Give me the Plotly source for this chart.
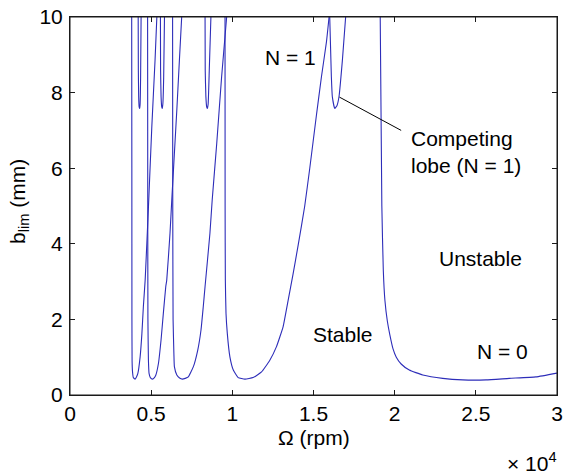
import plotly.graph_objects as go

# ---- data (spindle speed in rpm, limiting depth of cut in mm) ----
lobe4_rpm = [3800, 3810, 3815, 3825, 3850, 3900, 4010, 4100, 4180, 4320, 4430, 4520, 4630, 4830, 5040, 5240, 5350]
lobe4_blim = [10.0, 6.0, 2.0, 0.90, 0.62, 0.46, 0.42, 0.48, 0.57, 1.01, 1.63, 2.34, 3.04, 4.95, 7.10, 8.86, 10.0]

lobe3_rpm = [4780, 4790, 4800, 4830, 4870, 4950, 5080, 5200, 5290, 5450, 5610, 5750, 5900, 5960, 6160, 6270, 6430, 6580, 6740, 6880]
lobe3_blim = [10.0, 5.0, 2.0, 0.93, 0.57, 0.46, 0.42, 0.46, 0.53, 0.84, 1.46, 2.16, 2.87, 3.04, 4.28, 5.16, 6.39, 7.54, 8.86, 10.0]

lobe2_rpm = [6320, 6330, 6350, 6400, 6430, 6580, 6750, 6920, 7100, 7290, 7600, 7870, 8070, 8210, 8320, 8620, 8760, 9040, 9340, 9650]
lobe2_blim = [10.0, 5.0, 2.0, 1.10, 0.75, 0.53, 0.45, 0.42, 0.44, 0.48, 0.75, 1.19, 1.72, 2.34, 2.87, 4.28, 5.16, 6.66, 8.42, 10.0]

lobe1_rpm = [9550, 9555, 9570, 9610, 9690, 9850, 10060, 10360, 10780, 11280, 11800, 12310, 12720, 12930, 13130, 13440, 13740, 14050, 14460, 14770, 15180, 15490, 15800, 15960]
lobe1_blim = [10.0, 5.0, 3.04, 2.16, 1.63, 1.01, 0.66, 0.46, 0.42, 0.46, 0.61, 0.92, 1.28, 1.54, 1.81, 2.51, 3.20, 3.95, 5.00, 6.00, 7.40, 8.42, 9.35, 10.0]

lobe0_rpm = [19110, 19210, 19300, 19400, 19550, 19700, 19900, 20100, 20400, 20900, 21730, 22960, 24190, 25630, 27060, 28700, 30000]
lobe0_blim = [10.0, 5.0, 3.3, 2.5, 1.95, 1.60, 1.22, 1.00, 0.82, 0.66, 0.53, 0.44, 0.40, 0.40, 0.44, 0.48, 0.58]

# competing lobes (second mode)
comp_a_rpm = [4200, 4210, 4230, 4260, 4290, 4320, 4350, 4380]
comp_a_blim = [10.0, 8.6, 7.9, 7.62, 7.58, 7.7, 8.4, 10.0]
comp_b_rpm = [5570, 5580, 5610, 5650, 5680, 5720, 5770, 5820]
comp_b_blim = [10.0, 8.6, 7.9, 7.62, 7.58, 7.7, 8.4, 10.0]
comp_c_rpm = [8320, 8330, 8370, 8420, 8460, 8510, 8580, 8680]
comp_c_blim = [10.0, 8.6, 7.9, 7.62, 7.58, 7.7, 8.6, 10.0]
comp_d_rpm = [16000, 16100, 16160, 16310, 16450, 16570, 16780, 16980]
comp_d_blim = [10.0, 8.42, 7.89, 7.58, 7.66, 7.89, 8.86, 10.0]

x_tickvals = [0, 5000, 10000, 15000, 20000, 25000, 30000]
x_ticktext = ["0", "0.5", "1", "1.5", "2", "2.5", "3"]
y_tickvals = [0, 2, 4, 6, 8, 10]

LINE = "rgb(45,45,185)"
AXC = "#1a1a1a"
FONT = "Liberation Sans, Arial, Helvetica, sans-serif"
FS = 21

fig = go.Figure()
for xs, ys in [(lobe4_rpm, lobe4_blim), (lobe3_rpm, lobe3_blim), (lobe2_rpm, lobe2_blim),
               (lobe1_rpm, lobe1_blim), (lobe0_rpm, lobe0_blim),
               (comp_a_rpm, comp_a_blim), (comp_b_rpm, comp_b_blim),
               (comp_c_rpm, comp_c_blim), (comp_d_rpm, comp_d_blim)]:
    fig.add_trace(go.Scatter(x=xs, y=ys, mode="lines",
                             line=dict(color=LINE, width=1.1, shape="spline", smoothing=0.4),
                             showlegend=False, hoverinfo="skip", cliponaxis=True))

# leader line for competing lobe
fig.add_shape(type="line", x0=16600, y0=7.88, x1=20400, y1=7.0,
              line=dict(color="black", width=1))
# axes box
fig.add_shape(type="rect", xref="paper", yref="paper", x0=0, y0=0, x1=1, y1=1,
              line=dict(color=AXC, width=1), fillcolor="rgba(0,0,0,0)", layer="above")

ann = dict(showarrow=False, font=dict(family=FONT, size=FS, color="black"))
fig.add_annotation(x=13600, y=8.94, text="N = 1", **ann)
fig.add_annotation(x=20900, y=6.42, text="Competing<br>lobe (N = 1)", xanchor="left", align="left", **ann)
fig.add_annotation(x=16810, y=1.59, text="Stable", **ann)
fig.add_annotation(x=25280, y=3.60, text="Unstable", **ann)
fig.add_annotation(x=26630, y=1.14, text="N = 0", **ann)
fig.add_annotation(x=1.004, y=-0.177, xref="paper", yref="paper", xanchor="right", yanchor="middle",
                   text="× 10<sup>4</sup>", **ann)
# axis titles
fig.add_annotation(x=0.5, y=-0.113, xref="paper", yref="paper", xanchor="center", yanchor="middle",
                   text="Ω (rpm)", **ann)
fig.add_annotation(x=-0.105, y=0.513, xref="paper", yref="paper", xanchor="center", yanchor="middle",
                   text="b<sub>lim</sub> (mm)", textangle=-90, **ann)

fig.update_layout(
    width=564, height=474,
    margin=dict(l=70, r=7, t=17, b=79, autoexpand=False),
    paper_bgcolor="white", plot_bgcolor="white",
    font=dict(family=FONT, size=FS, color="black"),
)
fig.update_xaxes(range=[0, 30000], tickvals=x_tickvals, ticktext=x_ticktext,
                 showline=True, mirror="ticks", linecolor=AXC, linewidth=1,
                 ticks="inside", ticklen=5, tickcolor=AXC, tickwidth=1, showgrid=False, zeroline=False,
                 automargin=False, ticklabelstandoff=0, ticklabeloverflow="allow")
fig.update_yaxes(range=[0, 10], tickvals=y_tickvals,
                 showline=True, mirror="ticks", linecolor=AXC, linewidth=1,
                 ticks="inside", ticklen=5, tickcolor=AXC, tickwidth=1, showgrid=False, zeroline=False,
                 automargin=False, ticklabelstandoff=2, ticklabeloverflow="allow")

# remove the browser's default 8 px body margin so the figure sits at the page origin
fig.write_html("out.html", config={"displayModeBar": False},
               post_script="document.body.style.margin='0';document.body.style.overflow='hidden';")
